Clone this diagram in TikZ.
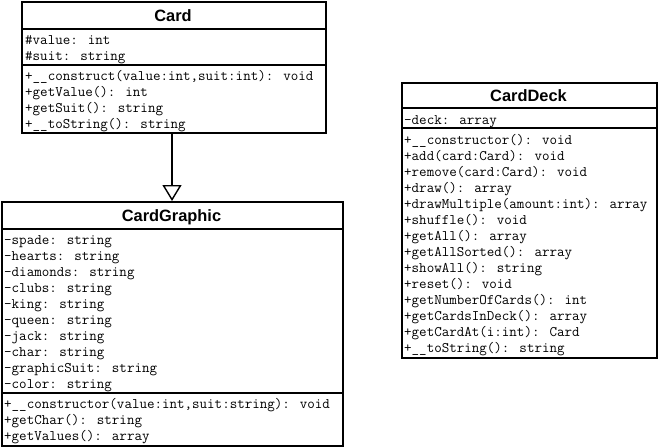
\documentclass[tikz,border=0pt]{standalone}
\usepackage{fontspec}
\setmainfont{Liberation Sans}
\usetikzlibrary{arrows.meta}
\tikzset{
  umlbox/.style={draw=black, line width=1.7pt, fill=white, rectangle, inner sep=0pt, anchor=north west},
  umlsep/.style={line width=1.7pt},
  umltitle/.style={font=\fontsize{16.4}{17}\selectfont\bfseries, inner sep=0pt, anchor=base},
  umlrow/.style={font=\ttfamily\fontsize{14.6}{15}\selectfont, inner sep=0pt, anchor=base west},
  inherit/.style={line width=1.7pt, -{Triangle[open, length=16pt, width=19pt, line width=1.4pt]}}
}
\begin{document}
\begin{tikzpicture}[x=1pt, y=-1pt]
\useasboundingbox (0,0) rectangle (660,447);
\fill[white] (0,0) rectangle (660,447);

% ---- Card ----
\node[umlbox, minimum width=304pt, minimum height=131pt] (card) at (21,1) {};
\draw[umlsep] (card.west |- 0,29) -- (card.east |- 0,29);
\draw[umlsep] (card.west |- 0,65) -- (card.east |- 0,65);
\node[umltitle] (cardT) at (173,21) {Card};
\node[umlrow] (cardA1) at (25,44) {\#value: int};
\node[umlrow] (cardA2) at (25,60) {\#suit: string};
\node[umlrow] (cardM1) at (25,80) {+\_\_construct(value:int,suit:int): void};
\node[umlrow] (cardM2) at (25,96) {+getValue(): int};
\node[umlrow] (cardM3) at (25,112) {+getSuit(): string};
\node[umlrow] (cardM4) at (25,128) {+\_\_toString(): string};

% ---- CardGraphic ----
\node[umlbox, minimum width=341pt, minimum height=244pt] (graphic) at (1,201) {};
\draw[umlsep] (graphic.west |- 0,229) -- (graphic.east |- 0,229);
\draw[umlsep] (graphic.west |- 0,393) -- (graphic.east |- 0,393);
\node[umltitle] (graphicT) at (171.5,221) {CardGraphic};
\node[umlrow] (gA1) at (4,244) {-spade: string};
\node[umlrow] (gA2) at (4,260) {-hearts: string};
\node[umlrow] (gA3) at (4,276) {-diamonds: string};
\node[umlrow] (gA4) at (4,292) {-clubs: string};
\node[umlrow] (gA5) at (4,308) {-king: string};
\node[umlrow] (gA6) at (4,324) {-queen: string};
\node[umlrow] (gA7) at (4,340) {-jack: string};
\node[umlrow] (gA8) at (4,356) {-char: string};
\node[umlrow] (gA9) at (4,372) {-graphicSuit: string};
\node[umlrow] (gA10) at (4,388) {-color: string};
\node[umlrow] (gM1) at (4,408) {+\_\_constructor(value:int,suit:string): void};
\node[umlrow] (gM2) at (4,424) {+getChar(): string};
\node[umlrow] (gM3) at (4,440) {+getValues(): array};

% ---- CardDeck ----
\node[umlbox, minimum width=255pt, minimum height=275pt] (deck) at (401,82) {};
\draw[umlsep] (deck.west |- 0,108) -- (deck.east |- 0,108);
\draw[umlsep] (deck.west |- 0,128) -- (deck.east |- 0,128);
\node[umltitle] (deckT) at (528.5,101) {CardDeck};
\node[umlrow] (dA1) at (404,124) {-deck: array};
\node[umlrow] (dM1) at (404,144) {+\_\_constructor(): void};
\node[umlrow] (dM2) at (404,160) {+add(card:Card): void};
\node[umlrow] (dM3) at (404,176) {+remove(card:Card): void};
\node[umlrow] (dM4) at (404,192) {+draw(): array};
\node[umlrow] (dM5) at (404,208) {+drawMultiple(amount:int): array};
\node[umlrow] (dM6) at (404,224) {+shuffle(): void};
\node[umlrow] (dM7) at (404,240) {+getAll(): array};
\node[umlrow] (dM8) at (404,256) {+getAllSorted(): array};
\node[umlrow] (dM9) at (404,272) {+showAll(): string};
\node[umlrow] (dM10) at (404,288) {+reset(): void};
\node[umlrow] (dM11) at (404,304) {+getNumberOfCards(): int};
\node[umlrow] (dM12) at (404,320) {+getCardsInDeck(): array};
\node[umlrow] (dM13) at (404,336) {+getCardAt(i:int): Card};
\node[umlrow] (dM14) at (404,352) {+\_\_toString(): string};

% ---- inheritance ----
\draw[inherit] (card.south -| 172,0) -- (graphic.north -| 172,0);
\end{tikzpicture}
\end{document}
